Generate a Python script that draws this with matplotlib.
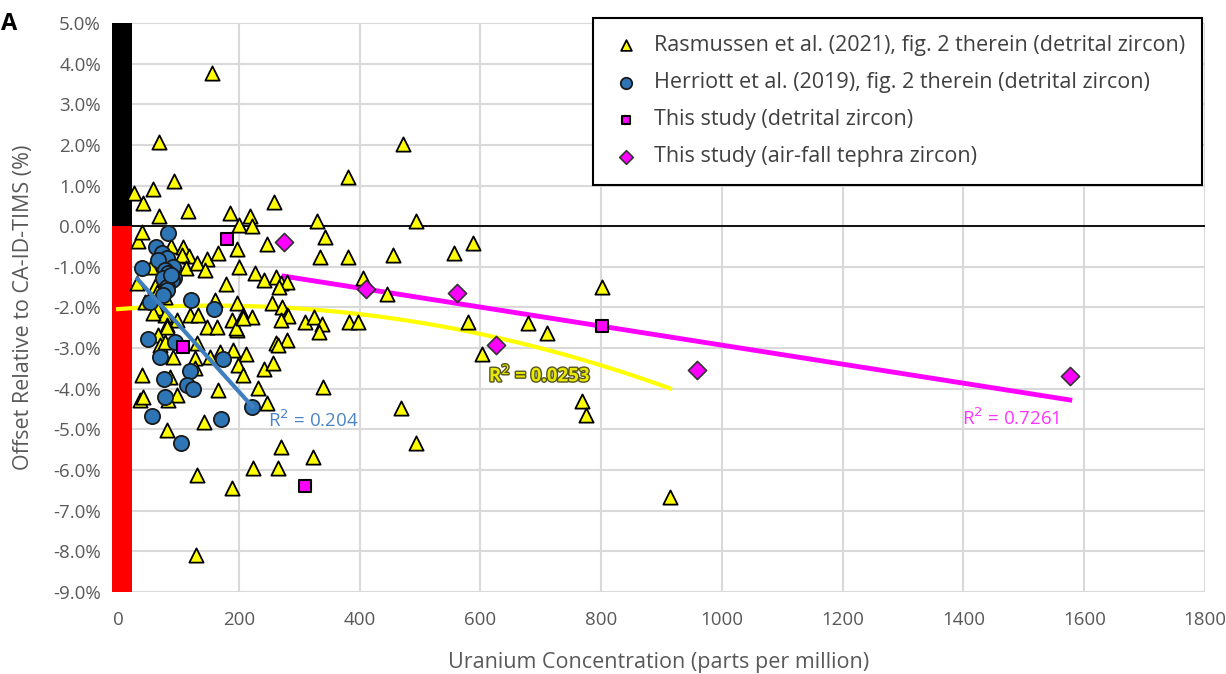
import numpy as np
import matplotlib
matplotlib.use("Agg")
import matplotlib.pyplot as plt
import matplotlib.patheffects as pe
from matplotlib.ticker import FuncFormatter, MultipleLocator

plt.rcParams['font.family'] = ['Open Sans', 'DejaVu Sans']

# Rasmussen et al. (2021) - uranium (ppm), offset (%)
ras_u = [156, 68, 471, 380, 93, 58, 27, 41, 68, 116, 186, 219, 259, 200, 222, 330, 494,
         343, 33, 40, 88, 108, 118, 106, 148, 166, 197, 247, 113, 131, 144, 201, 227, 241,
         262, 269, 280, 178, 55, 31, 61, 64, 78, 45, 64, 78, 58, 98, 81, 161, 197, 255, 272,
         119, 133, 207, 280, 335, 380, 456, 556, 587, 267, 406, 446, 282, 269, 222, 309, 324,
         338, 333, 382, 397, 579, 262, 279, 678, 710, 602, 801, 768, 775, 914, 197, 191, 211,
         264, 199, 207, 241, 257, 232, 246, 340, 469, 494, 270, 323, 224, 265, 189, 81, 66, 70,
         91, 40, 86, 98, 36, 41, 131, 128, 148, 164, 189, 195, 207, 169, 166, 81, 143, 131,
         129, 78, 83, 153, 128]
ras_off = [3.78, 2.07, 2.02, 1.22, 1.10, 0.92, 0.82, 0.57, 0.25, 0.37, 0.32, 0.25, 0.60, 0.03,
           0.00, 0.13, 0.13, -0.27, -0.37, -0.14, -0.48, -0.51, -0.73, -0.71, -0.81, -0.66,
           -0.56, -0.44, -1.03, -0.91, -1.08, -1.00, -1.16, -1.32, -1.25, -1.40, -1.37, -1.42,
           -1.00, -1.40, -1.47, -1.62, -1.74, -1.87, -2.02, -2.19, -2.14, -2.31, -2.44, -1.82,
           -1.90, -1.90, -1.99, -2.18, -2.18, -2.18, -2.18, -0.76, -0.76, -0.71, -0.66, -0.41,
           -1.50, -1.27, -1.67, -2.21, -2.31, -2.23, -2.36, -2.23, -2.41, -2.61, -2.36, -2.36,
           -2.36, -2.88, -2.80, -2.39, -2.63, -3.15, -1.49, -4.30, -4.65, -6.67, -2.55, -3.05,
           -3.15, -2.93, -3.42, -3.66, -3.52, -3.36, -3.98, -4.35, -3.95, -4.47, -5.33, -5.43,
           -5.68, -5.95, -5.95, -6.44, -2.48, -2.68, -2.92, -3.22, -3.66, -3.71, -4.15, -4.28,
           -4.20, -2.88, -3.25, -2.48, -2.48, -2.31, -2.51, -2.26, -3.10, -4.03, -5.02, -4.82,
           -6.13, -8.10, -2.85, -4.28, -3.22, -3.49]

# Herriott et al. (2019)
her_u = [83, 63, 73, 81, 66, 40, 91, 78, 83, 93, 75, 90, 81, 81, 75, 53, 121, 159, 50, 95,
         70, 174, 119, 76, 114, 124, 78, 56, 171, 105, 222, 88]
her_off = [-0.17, -0.51, -0.66, -0.78, -0.83, -1.03, -1.00, -1.08, -1.15, -1.28, -1.27, -1.32,
           -1.49, -1.57, -1.69, -1.87, -1.82, -2.04, -2.78, -2.84, -3.22, -3.27, -3.57, -3.76,
           -3.91, -4.01, -4.20, -4.67, -4.75, -5.33, -4.45, -1.20]

# This study
det_u = [181, 108, 309, 801]
det_off = [-0.31, -2.98, -6.39, -2.46]
teph_u = [275, 411, 561, 625, 959, 1576]
teph_off = [-0.39, -1.54, -1.65, -2.93, -3.54, -3.69]

# trendlines
ras_poly = [-3.55e-6, 0.00111, -2.04]     # quadratic, R2 = 0.0253
her_line = [-0.0165, -0.77]               # linear, R2 = 0.204
mag_line = [-0.00234, -0.587]             # linear, R2 = 0.7261

fig = plt.figure(figsize=(12.26, 6.74), dpi=100)
ax = fig.add_axes([0.0914, 0.1217, 0.8915, 0.8442])

grid_c = '#d9d9d9'
for xv in range(0, 1801, 200):
    ax.axvline(xv, color=grid_c, lw=1.5, zorder=0)
for yv in range(-9, 6):
    ax.axhline(yv, color=grid_c, lw=1.5, zorder=0)
ax.axhline(0, color='black', lw=1.3, zorder=1)

# colored bar along the y axis
ax.fill_between([-10, 23], 0, 5, color='black', lw=0, zorder=2)
ax.fill_between([-10, 23], -9, 0, color='red', lw=0, zorder=2)

# trendlines
xr = np.linspace(min(ras_u) - 27, max(ras_u), 100)
ax.plot(xr, np.polyval(ras_poly, xr), color='#FFFF00', lw=3, zorder=3)
xh = np.array([32, max(her_u)])
ax.plot(xh, np.polyval(her_line, xh), color='#3F7FBF', lw=3, zorder=5)
xm = np.array([min(teph_u), max(teph_u)])
ax.plot(xm, np.polyval(mag_line, xm), color='#FF00FF', lw=3.5, zorder=3)

ax.scatter(ras_u, ras_off, marker='^', s=105, c='#FFFF00', edgecolors='black',
           linewidths=1.3, zorder=4, label='Rasmussen et al. (2021), fig. 2 therein (detrital zircon)')
ax.scatter(her_u, her_off, marker='o', s=120, c='#2E75B6', edgecolors='#1a1a1a',
           linewidths=1.3, zorder=4, label='Herriott et al. (2019), fig. 2 therein (detrital zircon)')
ax.scatter(det_u, det_off, marker='s', s=70, c='#FF00FF', edgecolors='black',
           linewidths=1.5, zorder=6, label='This study (detrital zircon)')
ax.scatter(teph_u, teph_off, marker='D', s=85, c='#FF00FF', edgecolors='#333333',
           linewidths=1.2, zorder=6, label='This study (air-fall tephra zircon)')

ax.text(248, -4.95, 'R$^2$ = 0.204', color='#4A86C5', fontsize=13.5, zorder=7)
ax.text(1398, -4.88, 'R$^2$ = 0.7261', color='#FF33FF', fontsize=13.5, zorder=7)
ax.text(614, -3.82, 'R$^2$ = 0.0253', color='#E8E800', fontsize=13.5, fontweight='bold',
        zorder=7, path_effects=[pe.withStroke(linewidth=2, foreground='#555522')])

ax.set_xlim(-10, 1800)
ax.set_ylim(-9, 5)
ax.xaxis.set_major_locator(MultipleLocator(200))
ax.yaxis.set_major_locator(MultipleLocator(1))
ax.yaxis.set_major_formatter(FuncFormatter(lambda v, p: f'{v:.1f}%'))
for s in ax.spines.values():
    s.set_visible(False)
ax.tick_params(length=0, colors='#595959', labelsize=13.5)
ax.tick_params(axis='x', pad=14)
ax.tick_params(axis='y', pad=8)
ax.set_xlabel('Uranium Concentration (parts per million)', color='#595959', fontsize=15.5, labelpad=16)
ax.set_ylabel('Offset Relative to CA-ID-TIMS (%)', color='#595959', fontsize=15.5, labelpad=14)

leg = ax.legend(loc='upper right', bbox_to_anchor=(1.007, 1.028), fontsize=15.5, frameon=True,
                fancybox=False, edgecolor='black', framealpha=1, borderpad=0.8,
                labelspacing=0.75, handletextpad=0.6, handlelength=1.4, markerscale=0.75)
leg.get_frame().set_linewidth(1.5)
for t in leg.get_texts():
    t.set_color('#404040')

fig.text(0.001, 0.955, 'A', fontsize=17, fontweight='bold', color='black')

fig.savefig('out.png', dpi=100)
